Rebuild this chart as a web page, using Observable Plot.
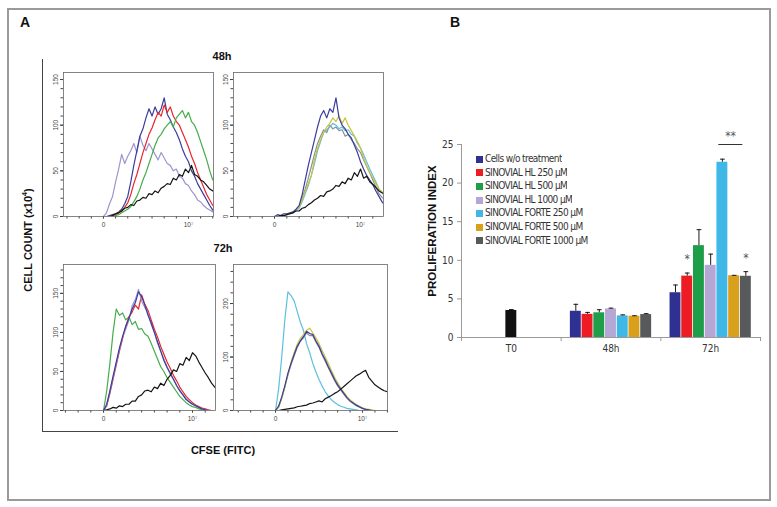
<!DOCTYPE html>
<html>
<head>
<meta charset="utf-8">
<script src="https://cdn.jsdelivr.net/npm/d3@7"></script>
<script src="https://cdn.jsdelivr.net/npm/@observablehq/plot@0.6"></script>
<style>
  body { margin: 0; background: #fff; }
  #fig { position: relative; width: 777px; height: 507px; overflow: hidden; background: #fff;
         font-family: "Liberation Sans", Arial, sans-serif; color: #111; }
  .lbl { position: absolute; white-space: nowrap; font-weight: bold; transform: translate(-50%, -50%); }
  .rot { transform: translate(-50%, -50%) rotate(-90deg); }
  #outer { position: absolute; left: 7px; top: 8px; width: 760px; height: 489px; border: 2px solid #9a9a9a; }
  #lframe { position: absolute; left: 42px; top: 59px; width: 355px; height: 372px; border-left: 1px solid #444; border-bottom: 1px solid #444; }
  #legendB svg { margin-right: 2px !important; }
  #legendB { letter-spacing: -0.6px; }
</style>
</head>
<body>
<div id="fig">
  <div id="outer"></div>
  <div id="lframe"></div>
</div>
<script>
// ---------------- DATA ----------------
// Panel A: CFSE histograms (x in display units: 0 -> "0", 7 -> "10^7"), counts x10^4
const cfseGrid = [0, 0.25, 0.5, 0.75, 1, 1.25, 1.5, 1.75, 2, 2.25, 2.5, 2.75, 3, 3.25, 3.5, 3.75, 4, 4.25, 4.5,
                  4.75, 5, 5.25, 5.5, 5.75, 6, 6.25, 6.5, 6.75, 7, 7.25, 7.5, 7.75, 8, 8.25, 8.5, 8.75, 9];

// 48h, SINOVIAL HL panel
const h48HL_lilac = [0, 4, 14, 22, 38, 52, 68, 58, 66, 72, 80, 70, 88, 78, 72, 80, 74, 68, 62, 70, 64, 58, 56, 50, 52, 44, 42, 36, 34, 28, 24, 18, 16, 12, 9, 7, 5];
const h48HL_blue  = [0, 0, 1, 2, 3, 5, 8, 14, 22, 38, 56, 72, 88, 96, 108, 118, 110, 120, 112, 118, 130, 112, 106, 98, 92, 84, 74, 66, 60, 50, 44, 36, 30, 24, 18, 12, 7];
const h48HL_red   = [0, 0, 0, 1, 2, 4, 6, 10, 15, 24, 36, 46, 58, 70, 80, 90, 97, 106, 114, 110, 122, 114, 120, 110, 104, 100, 92, 84, 76, 66, 58, 48, 40, 32, 24, 18, 12];
const h48HL_green = [0, 0, 0, 0, 1, 2, 4, 6, 8, 11, 16, 22, 30, 40, 48, 58, 68, 78, 86, 90, 96, 100, 104, 98, 108, 112, 116, 108, 114, 104, 100, 92, 82, 72, 62, 50, 40];
const h48HL_black = [0, 0, 0, 1, 3, 4, 6, 9, 10, 13, 12, 17, 18, 21, 20, 25, 24, 28, 26, 31, 33, 36, 35, 42, 40, 46, 44, 52, 48, 56, 46, 44, 40, 38, 34, 30, 28];

// 48h, SINOVIAL FORTE panel
const h48F_blue   = [0, 2, 1, 3, 3, 4, 5, 8, 12, 24, 40, 56, 70, 84, 98, 110, 116, 108, 118, 114, 130, 108, 100, 96, 90, 86, 78, 70, 60, 52, 45, 40, 35, 28, 22, 16, 12];
const h48F_yellow = [0, 0, 1, 1, 2, 3, 4, 7, 10, 18, 28, 36, 45, 62, 75, 84, 92, 98, 102, 108, 104, 110, 102, 108, 100, 94, 88, 82, 75, 64, 55, 48, 42, 36, 30, 27, 24];
const h48F_cyan   = [0, 0, 1, 1, 2, 3, 4, 6, 9, 16, 25, 34, 45, 58, 72, 82, 92, 95, 98, 102, 100, 96, 98, 94, 95, 90, 88, 80, 75, 68, 60, 52, 45, 38, 30, 26, 22];
const h48F_gray   = [0, 0, 1, 1, 2, 3, 4, 7, 10, 20, 30, 42, 55, 68, 80, 88, 95, 92, 100, 96, 98, 94, 95, 88, 90, 84, 80, 74, 70, 62, 55, 48, 40, 32, 25, 21, 18];
const h48F_black  = [0, 0, 1, 1, 2, 3, 4, 6, 6, 9, 10, 13, 15, 18, 20, 23, 22, 27, 28, 30, 34, 33, 38, 36, 42, 40, 48, 44, 52, 42, 44, 38, 35, 32, 28, 26, 25];

// 72h, SINOVIAL HL panel
const h72HL_green = [0, 25, 60, 100, 130, 122, 125, 116, 120, 110, 114, 104, 105, 98, 95, 86, 76, 66, 56, 50, 42, 36, 30, 24, 18, 14, 10, 7, 5, 4, 2, 1, 0, 0, 0, 0, 0];
const h72HL_blue  = [0, 8, 25, 44, 62, 80, 95, 108, 118, 130, 138, 152, 146, 135, 122, 112, 100, 88, 76, 64, 55, 48, 40, 32, 25, 20, 14, 11, 8, 6, 4, 2, 1, 0, 0, 0, 0];
const h72HL_red   = [0, 6, 22, 40, 58, 76, 92, 108, 120, 126, 135, 130, 148, 136, 128, 116, 104, 94, 82, 72, 62, 54, 45, 38, 30, 24, 18, 14, 10, 7, 5, 3, 2, 1, 0, 0, 0];
const h72HL_lilac = [0, 7, 24, 42, 60, 78, 94, 104, 116, 134, 142, 155, 140, 132, 125, 110, 100, 86, 76, 66, 56, 46, 40, 32, 26, 20, 15, 11, 8, 6, 4, 2, 1, 0, 0, 0, 0];
const h72HL_black = [0, 1, 2, 4, 3, 6, 5, 8, 8, 12, 12, 18, 20, 25, 26, 24, 30, 28, 35, 32, 40, 45, 52, 50, 60, 58, 68, 64, 74, 70, 62, 55, 48, 42, 35, 30, 25];

// 72h, SINOVIAL FORTE panel
const h72F_cyan   = [0, 40, 100, 170, 222, 215, 205, 185, 165, 150, 125, 108, 88, 72, 58, 46, 35, 27, 20, 15, 11, 8, 6, 4, 3, 2, 1, 0, 0, 0, 0, 0, 0, 0, 0, 0, 0];
const h72F_blue   = [0, 8, 25, 46, 70, 88, 105, 120, 130, 138, 148, 144, 142, 130, 120, 106, 95, 82, 70, 58, 48, 40, 32, 24, 18, 14, 10, 7, 4, 2, 1, 0, 0, 0, 0, 0, 0];
const h72F_yellow = [0, 6, 22, 44, 68, 90, 108, 124, 135, 142, 150, 154, 145, 136, 125, 112, 100, 88, 75, 62, 52, 42, 34, 26, 20, 15, 11, 8, 5, 3, 2, 1, 0, 0, 0, 0, 0];
const h72F_gray   = [0, 7, 24, 44, 66, 86, 102, 118, 130, 136, 145, 140, 140, 128, 118, 104, 92, 80, 68, 56, 46, 38, 30, 23, 17, 13, 9, 6, 4, 2, 1, 0, 0, 0, 0, 0, 0];
const h72F_black  = [0, 0, 1, 2, 3, 4, 5, 7, 8, 9, 10, 13, 14, 16, 18, 16, 22, 25, 28, 32, 35, 40, 45, 50, 55, 60, 65, 68, 72, 75, 62, 55, 48, 44, 40, 37, 35];

// Panel B: proliferation index
const timepoints = ["T0", "48h", "72h"];
const treatments = ["Cells w/o treatment", "SINOVIAL HL 250 µM", "SINOVIAL HL 500 µM", "SINOVIAL HL 1000 µM",
                    "SINOVIAL FORTE 250 µM", "SINOVIAL FORTE 500 µM", "SINOVIAL FORTE 1000 µM"];
const treatmentColors = ["#2e3192", "#ed1c24", "#1f9e4a", "#b4a7d6", "#3fb8e8", "#d8a01d", "#58595b"];
const t0Value = 3.5, t0Error = 0.12, t0Color = "#111111";
const values48h = [3.4, 3.0, 3.2, 3.7, 2.8, 2.76, 2.97];
const errors48h = [0.9, 0.25, 0.4, 0.1, 0.13, 0.06, 0.12];
const values72h = [5.8, 7.95, 11.9, 9.35, 22.7, 8.0, 7.93];
const errors72h = [1.0, 0.4, 2.07, 1.45, 0.4, 0.05, 0.6];
const starNotes = [
  {group: 2, treatment: 1, y: 10.1, label: "*"},
  {group: 2, treatment: 6, y: 10.3, label: "*"},
  {group: 2, treatment: 4.7, y: 26.1, label: "**"}
];
const sigBracket = {group: 2, from: 4, to: 6, y: 25};

// ---------------- LAYOUT HELPERS ----------------
const fig = document.getElementById("fig");
const NARROW = "'Liberation Sans Narrow', 'DejaVu Sans Condensed', 'Arial Narrow', sans-serif";
function place(node, left, top) {
  node.style.position = "absolute";
  node.style.left = left + "px";
  node.style.top = top + "px";
  fig.appendChild(node);
}
function label(text, x, y, size, rotate) {
  const d = document.createElement("div");
  d.className = "lbl" + (rotate ? " rot" : "");
  d.innerHTML = text;
  d.style.left = x + "px";
  d.style.top = y + "px";
  d.style.fontSize = size + "px";
  fig.appendChild(d);
}

// ---------------- PANEL A ----------------
const M = {l: 26, t: 4, r: 4, b: 16};
function histogram(frame, xDomain, yMax, yLabels, yStep, curves) {
  const svg = Plot.plot({
    width: frame.w + M.l + M.r, height: frame.h + M.t + M.b,
    marginLeft: M.l, marginTop: M.t, marginRight: M.r, marginBottom: M.b,
    x: {domain: xDomain, label: null}, y: {domain: [0, yMax], label: null},
    style: {fontFamily: "'Liberation Sans', Arial, sans-serif", fontSize: "6.5px", color: "#444", background: "transparent", overflow: "visible"},
    marks: [
      Plot.axisY({ticks: d3.range(0, yMax, yStep), tickSize: 2.5, tickFormat: () => "", label: null}),
      Plot.axisY({ticks: yLabels, tickSize: 3, tickPadding: 2.5, tickRotate: -90, label: null}),
      Plot.axisX({ticks: d3.range(-3, xDomain[1], 1), tickSize: 2.5, tickFormat: () => "", label: null}),
      Plot.axisX({ticks: [0, 7], tickSize: 2.5, tickPadding: 3, tickFormat: d => d === 0 ? "0" : "10⁷", label: null}),
      ...curves.map(c => Plot.line(cfseGrid, {x: cfseGrid, y: c.values, stroke: c.color, strokeWidth: 1.2, clip: true})),
      Plot.frame({stroke: "#666", strokeWidth: 0.8})
    ]
  });
  place(svg, frame.left - M.l, frame.top - M.t);
}

const cNavy = "#3a3d9c", cRed = "#e8262b", cGreen = "#44ad4a", cLilac = "#9d95cf", cBlack = "#151515",
      cYellow = "#c9c23c", cCyan = "#5cc0de", cGray = "#8c8f98";

histogram({left: 63, top: 72, w: 150, h: 144}, [-3.29, 9.06], 157.7, [0, 50, 100, 150], 10, [
  {values: h48HL_lilac, color: cLilac}, {values: h48HL_blue, color: cNavy},
  {values: h48HL_red, color: cRed}, {values: h48HL_green, color: cGreen}, {values: h48HL_black, color: cBlack}]);
histogram({left: 233, top: 72, w: 150, h: 144}, [-3.34, 8.87], 157.7, [0, 50, 100, 150], 10, [
  {values: h48F_gray, color: cGray}, {values: h48F_cyan, color: cCyan}, {values: h48F_yellow, color: cYellow},
  {values: h48F_blue, color: cNavy}, {values: h48F_black, color: cBlack}]);
histogram({left: 63, top: 264, w: 152, h: 146}, [-3.15, 8.81], 187, [0, 50, 100, 150], 10, [
  {values: h72HL_green, color: cGreen}, {values: h72HL_red, color: cRed},
  {values: h72HL_lilac, color: cLilac}, {values: h72HL_blue, color: cNavy}, {values: h72HL_black, color: cBlack}]);
histogram({left: 233, top: 264, w: 154, h: 146}, [-3.38, 9.01], 273, [0, 100, 200], 20, [
  {values: h72F_cyan, color: cCyan}, {values: h72F_gray, color: cGray}, {values: h72F_yellow, color: cYellow},
  {values: h72F_blue, color: cNavy}, {values: h72F_black, color: cBlack}]);

label("A", 25, 22, 14);
label("48h", 222, 56, 11);
label("72h", 223, 248, 11);
label("CFSE (FITC)", 223, 450, 11);
label("CELL COUNT (x10<sup style='font-size:7px;vertical-align:5px'>4</sup>)", 27, 240, 11, true);

// ---------------- PANEL B ----------------
const slotsPerGroup = 8.5, groupInset = 0.75;
const slotStart = (g, t) => g * slotsPerGroup + groupInset + t;
const barRows = [{slot: slotStart(0, 3), value: t0Value, err: t0Error, color: t0Color}];
treatments.forEach((t, i) => {
  barRows.push({slot: slotStart(1, i), value: values48h[i], err: errors48h[i], color: treatmentColors[i]});
  barRows.push({slot: slotStart(2, i), value: values72h[i], err: errors72h[i], color: treatmentColors[i]});
});
const boundaries = timepoints.map((t, i) => i * slotsPerGroup).concat([timepoints.length * slotsPerGroup]);
const centers = timepoints.map((t, i) => (i + 0.5) * slotsPerGroup);

const chartB = Plot.plot({
  width: 385, height: 250, marginLeft: 81, marginRight: 5, marginTop: 24, marginBottom: 33,
  x: {domain: [0, timepoints.length * slotsPerGroup], label: null},
  y: {domain: [0, 25], label: null},
  style: {fontFamily: NARROW, fontSize: "10px", color: "#333", background: "transparent", overflow: "visible"},
  marks: [
    Plot.rect(barRows, {x1: "slot", x2: d => d.slot + 1, y1: 0, y2: "value", fill: d => d.color, insetLeft: 0.4, insetRight: 0.4}),
    Plot.ruleX(barRows, {x: d => d.slot + 0.5, y1: "value", y2: d => d.value + d.err, stroke: "#1a1a1a", strokeWidth: 1}),
    Plot.link(barRows, {x1: d => d.slot + 0.3, x2: d => d.slot + 0.7, y1: d => d.value + d.err, y2: d => d.value + d.err, stroke: "#1a1a1a", strokeWidth: 1}),
    Plot.ruleY([0], {stroke: "#9a9a9a"}),
    Plot.ruleX([0], {y1: 0, y2: 25, stroke: "#9a9a9a"}),
    Plot.axisY({ticks: [0, 5, 10, 15, 20, 25], tickSize: 4, tickPadding: 4, stroke: "#9a9a9a", label: null}),
    Plot.axisX({ticks: boundaries, tickSize: 4, tickFormat: () => "", stroke: "#9a9a9a", label: null}),
    Plot.axisX({ticks: centers, tickSize: 0, tickPadding: 7, tickFormat: (d, i) => timepoints[i], label: null}),
    Plot.text(starNotes, {x: d => slotStart(d.group, d.treatment) + 0.5, y: "y", text: "label", fontSize: 12, fill: "#555"}),
    Plot.link([sigBracket], {x1: d => slotStart(d.group, d.from) + 0.15, x2: d => slotStart(d.group, d.to) + 0.2,
      y1: "y", y2: "y", stroke: "#333", strokeWidth: 1})
  ]
});
place(chartB, 380, 120);

const legendB = Plot.legend({
  color: {type: "ordinal", domain: treatments, range: treatmentColors},
  swatchSize: 7, columns: 1,
  style: {fontFamily: NARROW, fontSize: "10px", lineHeight: "12.6px", color: "#333", background: "transparent"}
});
legendB.id = "legendB";
place(legendB, 476, 153);

label("B", 455, 22, 14);
label("PROLIFERATION INDEX", 432, 231, 11.5, true);
</script>
</body>
</html>
